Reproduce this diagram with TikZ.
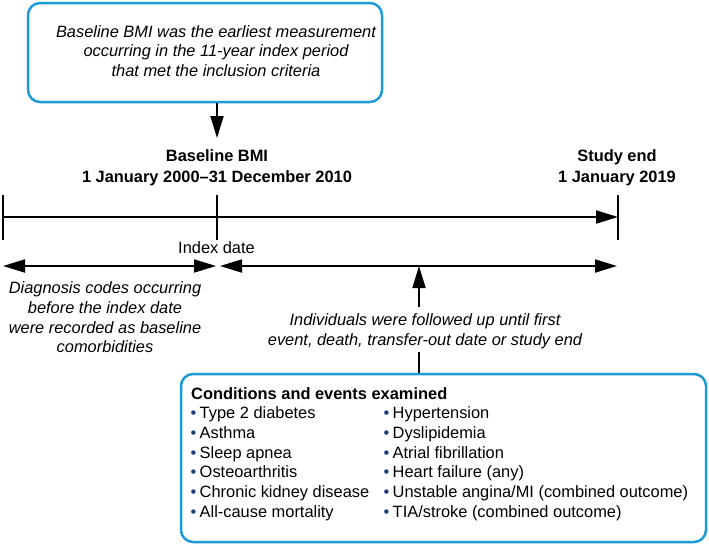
\documentclass[tikz,border=0pt]{standalone}
\usepackage{fontspec}
\setmainfont{Liberation Sans}
\usetikzlibrary{arrows.meta}
\definecolor{boxblue}{RGB}{30,155,215}
\definecolor{navy}{RGB}{31,62,120}
\newcommand\bul{\textcolor{navy}{\textbullet}\hspace{3.3pt}}
\begin{document}
\begin{tikzpicture}[x=1pt,y=-1pt,
 bluebox/.style={draw=boxblue, line width=2.5pt, rounded corners=12pt, inner sep=0pt},
 arr/.style={line width=1.8pt, -{Triangle[length=22pt,width=13pt]}},
 darr/.style={line width=1.8pt, {Triangle[length=22pt,width=13pt]}-{Triangle[length=22pt,width=13pt]}},
 plain/.style={line width=1.8pt},
 tickline/.style={line width=2pt},
 txt/.style={font=\fontsize{16.4}{19.7}\selectfont, inner sep=0pt, align=center},
 itxt/.style={txt, font=\fontsize{16.4}{19.7}\selectfont\itshape},
 btxt/.style={txt, font=\fontsize{16.4}{21}\selectfont\bfseries},
 item/.style={anchor=base west, inner sep=0pt, font=\fontsize{16.4}{19.7}\selectfont}]
\useasboundingbox (0,0) rectangle (709,544);

% top box
\node[bluebox, minimum width=354pt, minimum height=99pt] (topbox) at (205,52.5) {};
\node[itxt] (toptext) at (216,51) {Baseline BMI was the earliest measurement\\occurring in the 11-year index period\\that met the inclusion criteria};

% timeline coordinates
\coordinate (t0) at (3,217);
\coordinate (t1) at (217,217);
\coordinate (t2) at (618,217);
\foreach \n in {t0,t1,t2}{
  \draw[tickline] ([yshift=22pt]\n) -- ([yshift=-23pt]\n);
}
\draw[arr] (t0) -- (t2);

% labels above
\node[btxt] (bl) at (217,167.5) {Baseline BMI\\1 January 2000\textendash31 December 2010};
\node[btxt] (se) at (617,167.5) {Study end\\1 January 2019};
\coordinate (blin) at (217,138);
\draw[arr] (topbox.south -| t1) -- (blin);

\node[txt] (idx) at (216.5,248) {Index date};

% double arrows
\coordinate (a0) at (3,266);
\coordinate (a1) at (216,266);
\coordinate (a2) at (220,266);
\coordinate (a3) at (617,266);
\draw[darr] (a0) -- (a1);
\draw[darr] (a2) -- (a3);

\node[itxt] (lefttext) at (105,317.5) {Diagnosis codes occurring\\before the index date\\were recorded as baseline\\comorbidities};

\node[itxt] (midtext) at (425,331) {Individuals were followed up until first\\event, death, transfer-out date or study end};
\coordinate (upfoot) at (419,307);
\coordinate (downtop) at (419,352);
\draw[arr] (upfoot) -- (upfoot |- a3);

% bottom box
\node[bluebox, minimum width=525pt, minimum height=168pt] (botbox) at (443.5,458) {};
\draw[plain] (botbox.north -| downtop) -- (downtop);

\node[item, font=\fontsize{16.4}{19.7}\selectfont\bfseries] (title) at (191,399) {Conditions and events examined};
\foreach \t [count=\i] in {Type 2 diabetes,Asthma,Sleep apnea,Osteoarthritis,Chronic kidney disease,All-cause mortality}{
  \node[item] (l\i) at (190.5,{399+19.7*\i}) {\bul\t};
}
\foreach \t [count=\i] in {Hypertension,Dyslipidemia,Atrial fibrillation,Heart failure (any),Unstable angina/MI (combined outcome),TIA/stroke (combined outcome)}{
  \node[item] (r\i) at (383.5,{399+19.7*\i}) {\bul\t};
}
\end{tikzpicture}
\end{document}
